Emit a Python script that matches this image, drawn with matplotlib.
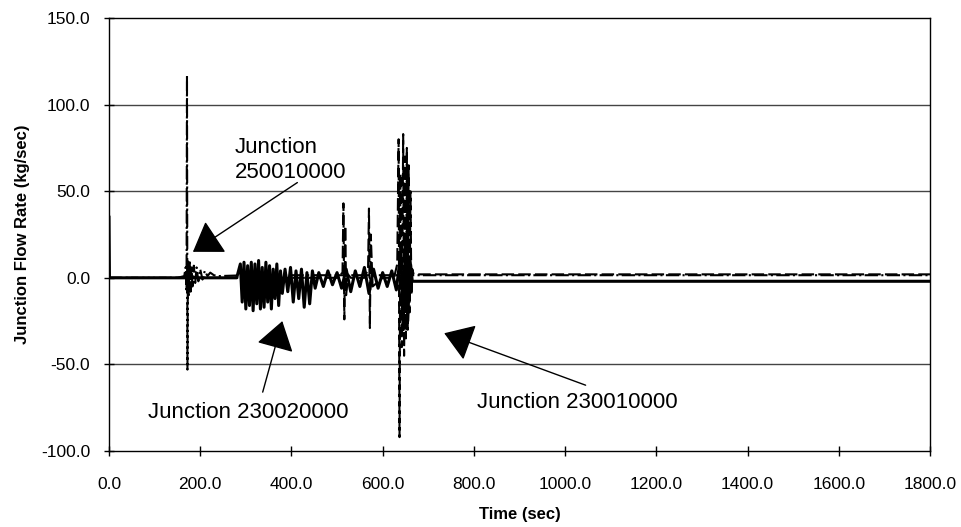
# Junction flow rate vs time

import numpy as np
import matplotlib.pyplot as plt
from matplotlib.ticker import FormatStrFormatter

plt.rcParams['font.family'] = ['Liberation Sans', 'DejaVu Sans']

# Junction 250010000 (dash-dot)
t_250010 = [0, 150, 165, 168, 170, 171, 172, 173, 175, 177, 179, 181, 183, 186, 189,
            192, 196, 200, 205, 210, 216, 222, 230, 240, 300, 1800]
q_250010 = [0, 0, 1, 6, -8, 117, -53, 10, -10, 9, -8, 6, -5, 7, -3,
            6, -2, 5, -1, 4, 1, 3, 1.5, 1, 1.5, 1.5]

# Junction 230020000 (solid)
t_230020 = [0, 1, 280, 288, 292, 296, 300, 304, 308, 312, 316, 320, 324, 328, 332, 336,
            340, 344, 348, 352, 356, 360, 364, 368, 372, 376, 380, 386, 392, 398, 404,
            410, 416, 422, 428, 434, 440, 446, 452, 460, 470, 480, 490, 500, 510, 520,
            530, 540, 550, 560, 570, 580, 590, 600, 610, 620, 630, 640, 645, 650, 655,
            660, 665, 670, 1800]
q_230020 = [35, 0, 0, 8, -14, 9, -18, 7, -16, 9, -19, 8, -15, 10, -18, 6,
            -17, 9, -14, 7, -18, 5, -12, 8, -16, 4, -9, 5, -8, 6, -14,
            4, -12, 5, -17, 3, -15, 4, -6, 3, -5, 4, -4, 3, -6, 5,
            -8, 4, -5, 6, -9, 5, -6, 3, -5, 4, -7, 15, -30, 20, -25,
            10, -2, -2, -2]

# Junction 230010000 (dashed)
t_230010 = [0, 500, 512, 514, 516, 518, 520, 524, 530, 560, 568, 570, 572, 574, 578,
            600, 625, 632, 635, 637, 639, 642, 645, 647, 649, 651, 653, 655, 657, 659,
            661, 663, 665, 668, 1800]
q_230010 = [0, 0, 3, 43, -24, 30, -10, 2, 0, 0, 5, 40, -29, 25, -5,
            0, 0, 8, 80, -92, 60, -40, 83, -45, 70, -35, 75, -30, 65, -20,
            50, -10, 5, 2, 2]

x_ticks = np.arange(0, 1801, 200)
y_ticks = np.arange(-100, 151, 50)

xLabel = "Time (sec)"
yLabel = "Junction Flow Rate (kg/sec)"

fig = plt.figure(figsize=(9.62, 5.27), dpi=100)
ax = fig.add_axes([0.1133, 0.1442, 0.8534, 0.8216])

# grid lines first so the data sits on top
for yv in [-50, 50, 100]:
    ax.axhline(yv, color='#444444', lw=1.0, zorder=1)

ax.plot(t_230020, q_230020, '-', color='k', lw=2.2, zorder=3)
ax.plot(t_230010, q_230010, '--', color='k', lw=1.5, dashes=(6, 2), zorder=3)
ax.plot(t_250010, q_250010, '-.', color='k', lw=1.5, zorder=3)

# annotations
ax.text(276, 68, "Junction\n250010000", fontsize=16, ha='left', va='center')
ax.text(85, -78, "Junction 230020000", fontsize=16, ha='left', va='center')
ax.text(807, -72, "Junction 230010000", fontsize=16, ha='left', va='center')

arrow = dict(arrowstyle='-|>,head_length=0.9,head_width=0.6', color='k', lw=1,
             shrinkA=0, shrinkB=0, mutation_scale=20)
ax.annotate("", xy=(184, 15), xytext=(413, 55), arrowprops=arrow)
ax.annotate("", xy=(380, -25), xytext=(337, -66), arrowprops=arrow)
ax.annotate("", xy=(735, -32), xytext=(1045, -62), arrowprops=arrow)

ax.set_xlim(0, 1800)
ax.set_ylim(-100, 150)
ax.set_xticks(x_ticks)
ax.set_yticks(y_ticks)
ax.xaxis.set_major_formatter(FormatStrFormatter('%.1f'))
ax.yaxis.set_major_formatter(FormatStrFormatter('%.1f'))
ax.tick_params(axis='x', direction='inout', length=7, width=1, labelsize=12.5, pad=15)
ax.tick_params(axis='y', direction='inout', length=7, width=1, labelsize=12.5, pad=10)
for s in ax.spines.values():
    s.set_linewidth(1.0)

plt.xlabel(xLabel, fontsize=12, fontweight='bold', labelpad=11)
plt.ylabel(yLabel, fontsize=12, fontweight='bold', labelpad=8)

plt.savefig('out.png', dpi=100)
